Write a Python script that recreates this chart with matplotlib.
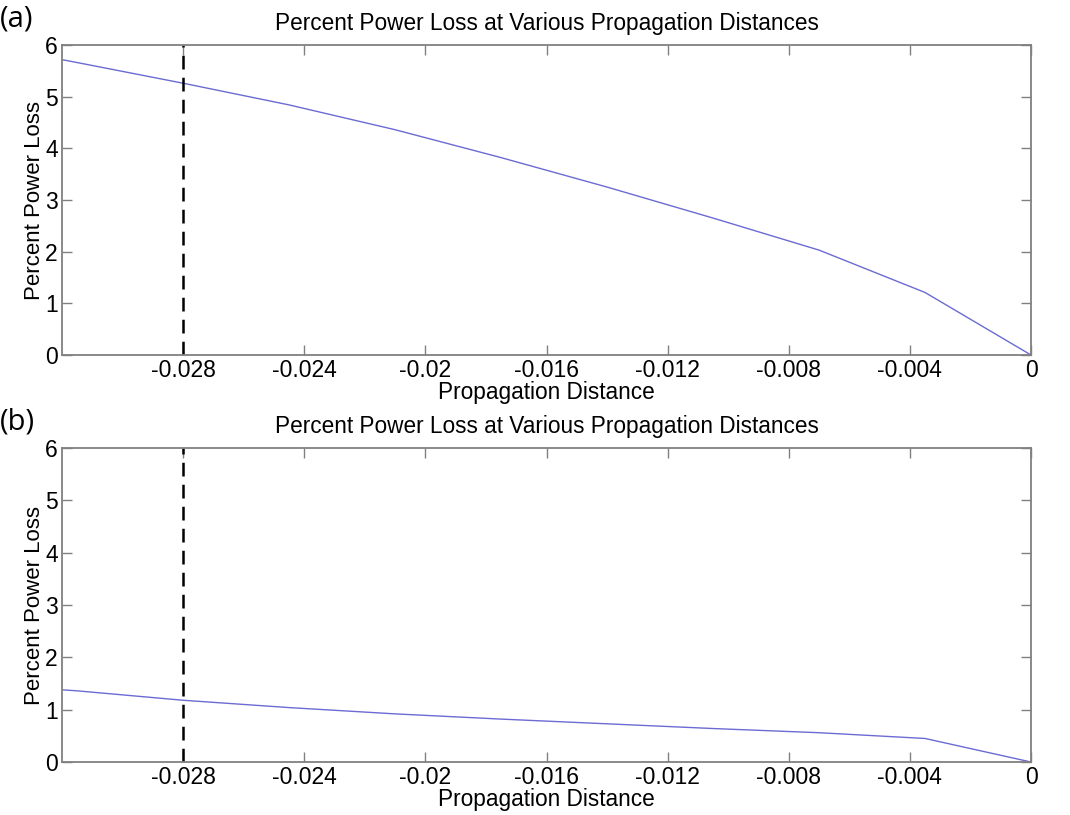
import matplotlib.pyplot as plt

plt.rcParams['font.family'] = ['Liberation Sans', 'DejaVu Sans']

# propagation distance samples (step 0.0035)
dist = [0.0, -0.0035, -0.007, -0.0105, -0.014, -0.0175, -0.021, -0.0245, -0.028, -0.0315, -0.035]
loss_a = [0.0, 1.21, 2.03, 2.65, 3.25, 3.82, 4.36, 4.84, 5.26, 5.66, 6.05]
loss_b = [0.0, 0.45, 0.56, 0.64, 0.73, 0.82, 0.92, 1.04, 1.18, 1.36, 1.50]

marker_x = -0.028
xticks = [-0.028, -0.024, -0.02, -0.016, -0.012, -0.008, -0.004, 0]
xtick_labels = ["-0.028", "-0.024", "-0.02", "-0.016", "-0.012", "-0.008", "-0.004", "0"]
yticks = [0, 1, 2, 3, 4, 5, 6]

title = "Percent Power Loss at Various Propagation Distances"
panels = [("(a)", loss_a), ("(b)", loss_b)]

fig = plt.figure(figsize=(10.7, 8.15), dpi=100)
boxes = [[0.058, 0.5644, 0.9056, 0.3804], [0.058, 0.0650, 0.9056, 0.3853]]

for (tag, loss), box in zip(panels, boxes):
    ax = fig.add_axes(box)
    ax.plot(dist, loss, color="#6b6bd3", lw=1.0)
    ax.axvline(marker_x, color="black", ls=(0, (5.5, 3.3)), lw=1.8)
    ax.set_xlim(-0.032, 0)
    ax.set_ylim(0, 6)
    ax.set_xticks(xticks)
    ax.set_xticklabels(xtick_labels)
    ax.set_yticks(yticks)
    ax.tick_params(direction="in", length=7, width=1, color="#808080",
                   labelsize=16.5, top=True, right=True, pad=3)
    for s in ax.spines.values():
        s.set_color("#808080")
        s.set_linewidth(1.3)
    ax.set_title(title, fontsize=16.3, pad=11)
    ax.set_xlabel("Propagation Distance", fontsize=16.3, labelpad=-1)
    ax.set_ylabel("Percent Power Loss", fontsize=16, labelpad=0)
    top = box[1] + box[3]
    fig.text(0.0, top + 0.032, tag, fontsize=21, family=["Open Sans", "DejaVu Sans"],
             va="center", ha="left")

fig.savefig("out.png", dpi=100)
